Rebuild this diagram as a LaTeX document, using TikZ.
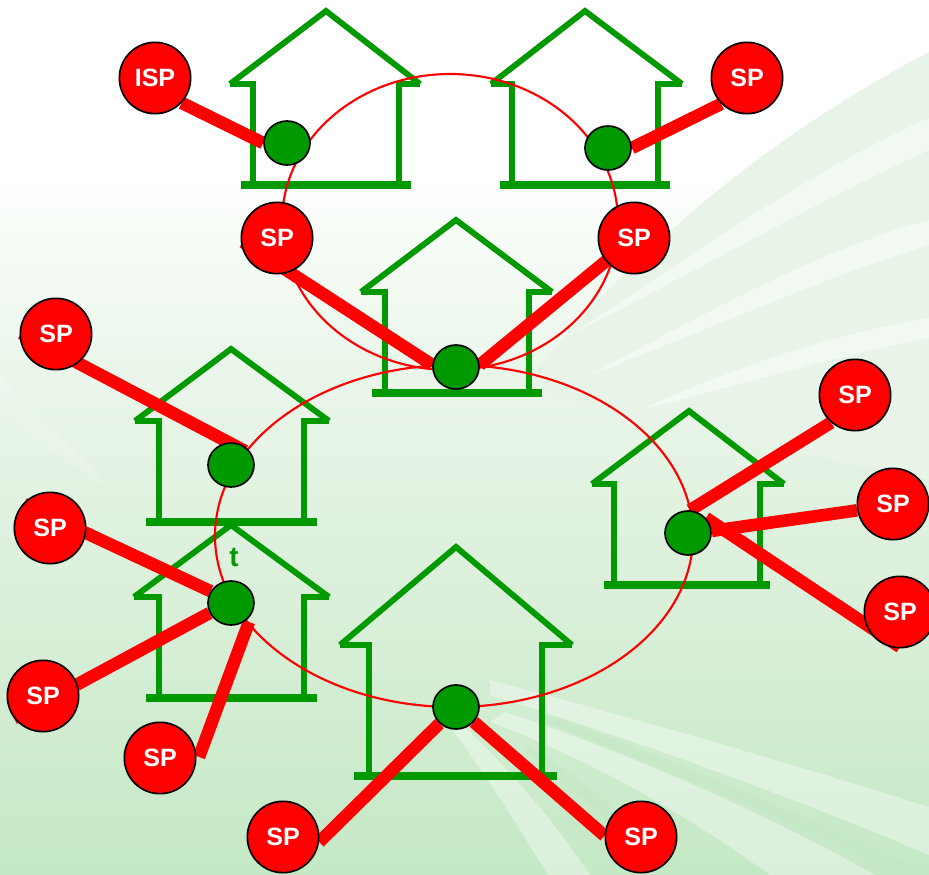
\documentclass[tikz,border=0pt]{standalone}
\usepackage{fontspec}
\setmainfont{Liberation Sans}
\usetikzlibrary{shapes.geometric}
\definecolor{hgreen}{HTML}{009900}
\definecolor{bandl}{HTML}{E8F4E8}
\definecolor{bandw}{HTML}{F2F9F2}
\definecolor{bandd}{HTML}{C4E8C4}
\pgfdeclareverticalshading{bgfadeb}{100bp}{
  rgb(0bp)=(0.77,0.91,0.77);
  rgb(25bp)=(0.77,0.91,0.77);
  rgb(40.7bp)=(0.855,0.94,0.855);
  rgb(52bp)=(0.91,0.96,0.91);
  rgb(62bp)=(0.97,0.99,0.97);
  rgb(65.3bp)=(1,1,1);
  rgb(100bp)=(1,1,1)}
\pgfdeclarelayer{backlayer}
\pgfdeclarelayer{linklayer}
\pgfsetlayers{backlayer,linklayer,main}
\tikzset{
  spnode/.style={circle,draw=black,line width=1.25pt,fill=red,minimum size=53.5pt,inner sep=0pt,text=white,font=\bfseries\fontsize{18.8}{20}\selectfont},
  hub/.style={ellipse,draw=black,line width=1.25pt,fill=hgreen,minimum width=34.5pt,minimum height=33pt,inner sep=0pt},
  link/.style={draw=red,line width=9.4pt},
  ringline/.style={draw=red,line width=1.6pt},
  wallline/.style={draw=hgreen,line width=4.4pt,line join=miter},
  floorline/.style={draw=hgreen,line width=5.8pt},
  bandlight/.style={fill=bandl,draw=none},
  bandwhite/.style={fill=bandw,draw=none},
  banddark/.style={fill=bandd,draw=none,opacity=.6},
  raylight/.style={fill=white,draw=none,opacity=.38}
}
\newcommand{\myhouse}[9]{%
  \draw[wallline] (#3,#5) -- (#1,#2) -- (#4,#5);
  \draw[wallline] (#3,#5) -- (#6+3,#5);
  \draw[wallline] (#4,#5) -- (#7-3,#5);
  \draw[wallline] (#6,#5) -- (#6,#8);
  \draw[wallline] (#7,#5) -- (#7,#8);
  \draw[floorline] (#6-#9,#8) -- (#7+#9,#8);
}
\begin{document}
\begin{tikzpicture}[x=0.75pt,y=-0.75pt]
\useasboundingbox (0,0) rectangle (929,875);
\begin{pgfonlayer}{backlayer}
\shade[shading=bgfadeb] (0,0) rectangle (929,875);
\begin{scope}
\clip (0,0) rectangle (929,875);
% upper right streaks
\path[bandlight] (929,52) .. controls (780,130) and (640,240) .. (525,385) .. controls (640,430) and (800,450) .. (929,480) -- cycle;
\path[bandwhite] (929,118) .. controls (800,175) and (680,265) .. (570,335) .. controls (680,280) and (810,205) .. (929,150) -- cycle;
\path[bandwhite] (929,220) .. controls (820,250) and (720,305) .. (590,375) .. controls (720,325) and (830,275) .. (929,245) -- cycle;
\path[bandwhite] (929,318) .. controls (830,335) and (740,365) .. (640,410) .. controls (740,385) and (840,355) .. (929,338) -- cycle;
% lower right rays
\path[raylight] (490,680) .. controls (640,720) and (780,760) .. (929,807) -- (929,855) .. controls (800,800) and (650,745) .. (490,695) -- cycle;
\path[raylight] (505,712) .. controls (620,750) and (760,810) .. (875,875) -- (770,875) .. controls (680,810) and (590,760) .. (490,722) -- cycle;
\path[raylight] (466,728) .. controls (520,780) and (560,830) .. (590,875) -- (548,875) .. controls (520,830) and (490,780) .. (452,730) -- cycle;
\path[banddark] (540,712) .. controls (680,760) and (800,815) .. (929,875) -- (905,875) .. controls (790,820) and (650,765) .. (540,720) -- cycle;
\path[banddark] (530,745) .. controls (590,785) and (640,830) .. (690,875) -- (668,875) .. controls (620,830) and (570,790) .. (525,750) -- cycle;
% faint left sweep
\path[fill=white,opacity=.15] (0,375) .. controls (40,420) and (80,450) .. (110,490) .. controls (70,465) and (30,435) .. (0,410) -- cycle;
\end{scope}

% houses
\myhouse{326}{11}{230}{420}{84}{253}{399}{185}{12}
\myhouse{585}{11}{491}{682}{84}{512}{658}{185}{12}
\myhouse{456}{220}{361}{552}{292}{385}{529}{393}{13}
\myhouse{231}{349}{135}{329}{421}{159}{304}{522}{13}
\myhouse{231}{525}{134}{329}{597}{159}{304}{698}{13}
\myhouse{456}{547}{340}{572}{645}{369}{542}{776}{15}
\myhouse{689}{411}{592}{784}{484}{614}{760}{585}{10}

% rings
\draw[ringline] (450,222) ellipse [x radius=168,y radius=148];
\draw[ringline] (454,536) ellipse [x radius=239,y radius=171];
\end{pgfonlayer}

% hubs
\node[hub] (g1) at (287,143) {};
\node[hub] (g2) at (608,148) {};
\node[hub] (g3) at (456,367) {};
\node[hub] (g4) at (231,465) {};
\node[hub] (g5) at (231,603) {};
\node[hub] (g6) at (456,707) {};
\node[hub] (g7) at (688,533) {};
% service providers
\node[spnode] (s1) at (155,78) {ISP};
\node[spnode] (s2) at (747,78) {SP};
\node[spnode] (s3) at (277,238) {SP};
\node[spnode] (s4) at (634,238) {SP};
\node[spnode] (s5) at (56,334) {SP};
\node[spnode] (s6) at (855,395) {SP};
\node[spnode] (s7) at (893,504) {SP};
\node[spnode] (s8) at (900,612) {SP};
\node[spnode] (s9) at (50,528) {SP};
\node[spnode] (s10) at (43,696) {SP};
\node[spnode] (s11) at (160,758) {SP};
\node[spnode] (s12) at (283,837) {SP};
\node[spnode] (s13) at (641,837) {SP};
\node[text=hgreen,font=\bfseries\fontsize{21}{22}\selectfont] (tlabel) at (234,557) {t};

% free ends of the links
\coordinate (t3) at (243,242);
\coordinate (t5) at (21,333);
\coordinate (t4) at (245,451);
\coordinate (t8) at (900,647);
\coordinate (t9) at (24,504);
\coordinate (t10) at (14,718.5);
\coordinate (t11) at (199,757);
\coordinate (t5b) at (249,622);

% links
\begin{pgfonlayer}{linklayer}
\draw[link] (s1.-43) -- (g1.180);
\draw[link] (s2.-135) -- (g2.0);
\draw[link] (t3) -- (g3.175);
\draw[link] (s4.center) -- (g3.5);
\draw[link] (t5) -- (t4);
\draw[link] (t9) -- (g5.150);
\draw[link] (t10) -- (g5.205);
\draw[link] (t11) -- (t5b);
\draw[link] (s12.-8) -- (g6.225);
\draw[link] (s13.178) -- (g6.-40);
\draw[link] (s6.229) -- (g7.85);
\draw[link] (s7.190) -- (g7.5);
\draw[link] (t8) -- (g7.40);
\end{pgfonlayer}
\end{tikzpicture}
\end{document}
